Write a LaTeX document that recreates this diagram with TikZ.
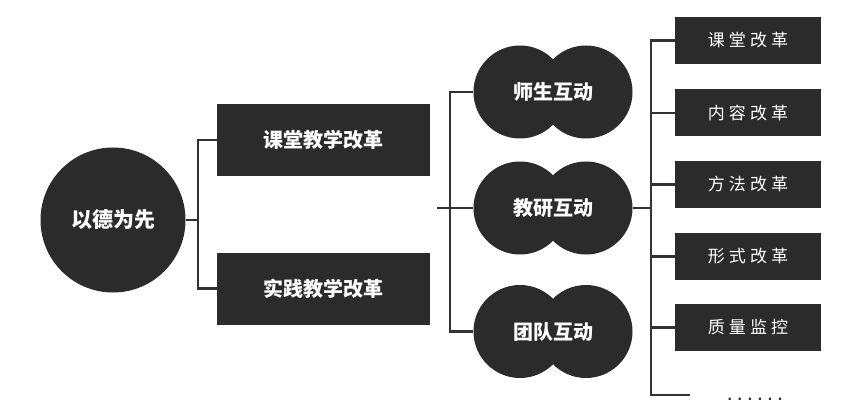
\documentclass[tikz,border=0pt]{standalone}
\usepackage{fontspec}
\usepackage{tikz}
\usetikzlibrary{positioning,calc}
\newfontfamily\cjk{Noto Sans CJK SC}
\newfontfamily\cjkspaced[LetterSpace=24]{Noto Sans CJK SC}
\newfontfamily\dotfont[LetterSpace=35]{Liberation Sans}
\definecolor{boxgray}{HTML}{2B2B2B}
\definecolor{linegray}{HTML}{333333}
\tikzset{
  darkbox/.style={rectangle, fill=boxgray, text=white, inner sep=0pt,
    minimum width=213pt, minimum height=72pt,
    font=\cjk\bfseries\fontsize{20}{24}\selectfont},
  smallbox/.style={rectangle, fill=boxgray, text=white, inner sep=0pt,
    minimum width=146pt, minimum height=47pt,
    font=\cjkspaced\fontsize{17}{20}\selectfont},
  twin/.style={rectangle, text=white, inner sep=0pt,
    minimum width=159pt, minimum height=93pt,
    font=\cjk\bfseries\fontsize{20}{24}\selectfont},
  link/.style={draw=linegray, line width=2.4pt}
}

\begin{document}
\begin{tikzpicture}[x=1pt,y=-1pt]
\useasboundingbox (0,0) rectangle (852,417);
% root and first level
\node[circle, fill=boxgray, text=white, minimum size=145pt, inner sep=0pt,
  font=\cjk\bfseries\fontsize{21}{24}\selectfont] (Root) at (113,220) {以德为先};
\node[darkbox] (ClassReform) at (323.5,140) {课堂教学改革};
\node[darkbox] (PracticeReform) at (323.5,288.5) {实践教学改革};
\coordinate (LeftFork) at (198,220);
\draw[link] (Root) -- (LeftFork);
\draw[link] (ClassReform.west) -| (LeftFork) |- (PracticeReform.west);

% interaction shapes
\foreach \name/\y/\label in {TeacherStudent/92/师生互动, Research/208/教研互动, Team/331.5/团队互动}{
  \fill[boxgray] (520,\y) circle (46.5pt) (586,\y) circle (46.5pt);
  \node[twin] (\name) at (553,\y) {\label};
}
\coordinate (MidIn) at (437,208);
\coordinate (MidFork) at (450,208);
\draw[link] (MidIn) -- (MidFork);
\draw[link] (TeacherStudent.west) -| (MidFork) |- (Team.west);
\draw[link] (MidFork) -- (Research.west);

% reform items
\foreach \name/\y/\label in {Lesson/40.5/课堂改革, Content/113/内容改革, Method/184.5/方法改革, Form/256.5/形式改革, Quality/327.5/质量监控}
  \node[smallbox] (\name) at (748,\y) {\label};
\coordinate (RightFork) at (651,208);
\coordinate (MoreEnd) at (690,395);
\draw[link] (Research.east) -- (RightFork);
\draw[link] (Lesson.west) -| (RightFork) |- (MoreEnd);
\foreach \name in {Content,Method,Form,Quality}
  \draw[link] (RightFork |- \name.west) -- (\name.west);
\node[font=\dotfont\bfseries\fontsize{16}{18}\selectfont, text=linegray] (More) at (755,399) {......};
\end{tikzpicture}
\end{document}
